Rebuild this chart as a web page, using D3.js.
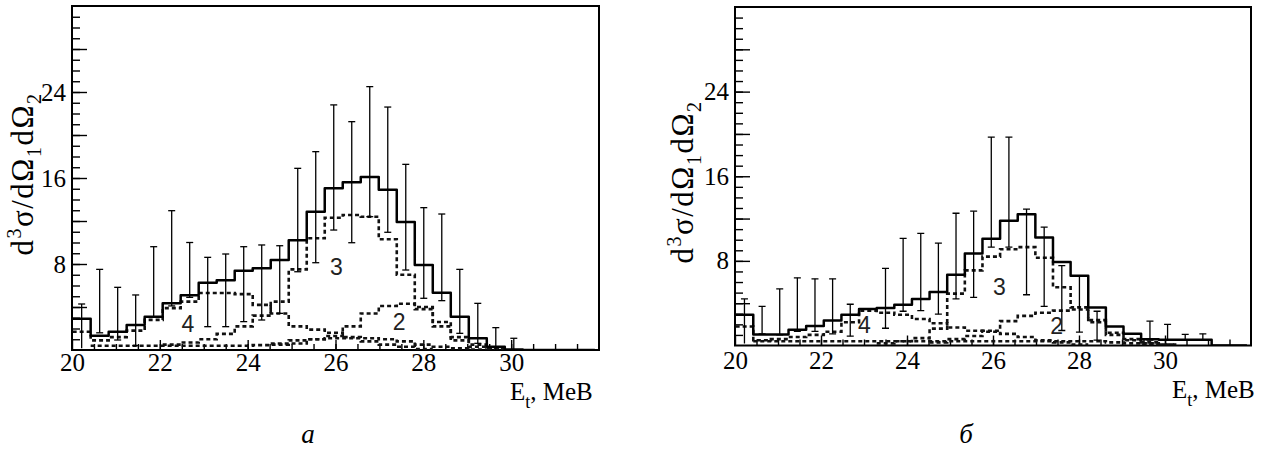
<!DOCTYPE html>
<html>
<head>
<meta charset="utf-8">
<script src="https://cdn.jsdelivr.net/npm/d3@7"></script>
<style>
  body { margin: 0; background: #fff; }
  svg { display: block; }
  text { font-family: "Liberation Serif", "Times New Roman", serif; fill: #000; }
</style>
</head>
<body>
<svg id="chart" width="1273" height="450"></svg>
<script>
// bin centres (MeV), same binning in both panels
const centers = [20.22, 20.63, 21.04, 21.45, 21.86, 22.27, 22.68, 23.09, 23.50, 23.91,
                 24.32, 24.73, 25.14, 25.55, 25.96, 26.37, 26.78, 27.19, 27.60, 28.01,
                 28.42, 28.83, 29.24, 29.65, 30.06, 30.47, 30.88, 31.29, 31.70];
const binWidth = 0.41;

const xTickLabels = [20, 22, 24, 26, 28, 30];
const yTickLabels = [8, 16, 24];

// panel "а"
const solidA  = [2.9, 1.33, 1.7, 2.33, 3.1, 4.34, 5.1, 6.26, 6.5, 7.38, 7.6, 8.37, 10.2, 12.87, 15.04,
                 15.6, 16.1, 14.9, 11.9, 7.9, 5.33, 3.1, 1.09, 0.3, 0.05, 0, 0, 0, 0];
const curve4A = [1.7, 0.9, 1.2, 1.8, 2.8, 3.9, 4.5, 5.3, 5.3, 5.2, 4.2, 3.4, 2.2, 1.9, 1.6,
                 1.2, 0.8, 0.5, 0.3, 0.1, null, null, null, null, null, null, null, null, null];
const curve3A = [null, null, null, null, null, 0.5, 0.7, 1.0, 1.5, 2.2, 3.2, 4.5, 7.5, 10.4, 12.3,
                 12.56, 12.4, 10.3, 7.0, 4.0, 2.6, 1.2, 0.5, 0.2, null, null, null, null, null];
const curve2A = [null, null, null, null, null, null, null, null, null, null, null, 0.6, 0.9, 1.0, 1.3,
                 2.2, 3.4, 4.1, 4.3, 3.8, 2.2, 0.9, 0.3, 0.1, null, null, null, null, null];
const curve1A = [null, 0.4, 0.4, 0.4, 0.4, 0.4, 0.4, 0.4, 0.4, 0.4, 0.45, 0.5, 0.6, 1.0, 1.1,
                 1.1, 1.1, 1.0, 0.8, 0.5, 0.3, 0.15, 0.05, null, null, null, null, null, null];
const errTopA = [4.28, 7.5, 5.83, 5.12, 9.61, 12.96, 10.0, 8.62, 8.93, 9.61, 9.77, 9.7, 16.9, 18.45, 22.8,
                 21.24, 24.5, 22.6, 17.27, 13.24, 12.65, 7.5, 4.34, 2.08, 1.09, null, null, null, null];
const errLowA = [0.16, 1.6, 0.93, 0.4, 3.1, 4.1, 4.9, 2.17, 2.17, 2.64, 2.79, 3.41, 7.28, 8.12, 11.16,
                 9.98, 12.4, 10.95, 7.44, 4.81, 4.59, 1.55, 0.62, 0, 0, null, null, null, null];

// panel "б"
const solidB  = [2.9, 1.04, 1.04, 1.5, 1.85, 2.36, 2.9, 3.45, 3.55, 3.85, 4.4, 5.05, 6.7, 8.7, 10.1,
                 11.8, 12.4, 10.2, 7.9, 6.6, 3.6, 1.8, 1.1, 0.6, 0.55, 0.55, 0.55, 0, 0];
const curve4B = [1.8, 0.5, 0.6, 0.8, 1.0, 1.3, 2.2, 3.3, 3.1, 2.9, 2.5, 2.1, 1.7, 1.4, 1.3,
                 1.1, 0.8, 0.5, 0.3, 0.1, null, null, null, null, null, null, null, null, null];
const curve3B = [null, null, null, null, null, null, null, null, 0.2, 0.4, 0.7, 1.6, 4.9, 7.1, 8.4,
                 9.1, 9.3, 8.3, 5.5, 3.6, 2.2, 1.2, 0.6, 0.3, 0.1, null, null, null, null];
const curve2B = [null, null, null, null, null, null, null, null, null, null, null, 0.3, 0.6, 0.9, 1.4,
                 2.3, 2.8, 3.1, 3.3, 3.4, 2.4, 1.0, 0.5, 0.2, 0.1, null, null, null, null];
const curve1B = [null, 0.4, 0.4, 0.4, 0.4, 0.4, 0.4, 0.4, 0.4, 0.4, 0.4, 0.4, 0.4, 0.4, 0.4,
                 0.4, 0.4, 0.4, 0.4, 0.4, 0.4, 0.3, 0.2, 0.1, null, null, null, null, null];
const errTopB = [4.4, 3.7, 5.35, 6.4, 6.3, 6.3, 3.9, null, 7.3, 10.13, 10.6, 9.68, 12.5, 12.7, 19.7,
                 19.7, 12.9, 11.2, 7.55, 6.6, 3.24, null, null, 2.3, 2.0, 1.05, 1.1, null, null];
const errLowB = [0.2, 1.1, 1.0, 1.33, 1.33, 1.1, 0.88, null, 1.63, 3.24, 3.3, 2.96, 4.4, 4.55, 9.3,
                 9.3, 4.8, 3.7, 1.42, 1.26, 0.5, null, null, 0.5, 0.5, 0.5, 0.5, null, null];

const svg = d3.select("#chart");
svg.append("rect").attr("width", 1273).attr("height", 450).attr("fill", "#fff");

// turns per-bin values into the corners of a step histogram
function stepPoints(vals) {
  const pts = [];
  vals.forEach((v, i) => {
    if (v == null) return;
    pts.push([centers[i] - binWidth / 2, v]);
    pts.push([centers[i] + binWidth / 2, v]);
  });
  return pts;
}

function drawPanel(p) {
  const x = d3.scaleLinear().domain([20, 32]).range(p.xRange);
  const y = d3.scaleLinear().domain([0, 32]).range(p.yRange);
  const g = svg.append("g");

  g.append("clipPath").attr("id", "clip-" + p.id)
    .append("rect")
    .attr("x", x(20)).attr("y", y(32))
    .attr("width", x(32) - x(20)).attr("height", y(0) - y(32));

  // y ticks, pointing inwards
  const yMinor = g.append("g").attr("transform", `translate(${x(20)},0)`)
    .call(d3.axisLeft(y).tickValues(d3.range(1, 32)).tickSize(-8).tickFormat(""));
  const yMajor = g.append("g").attr("transform", `translate(${x(20)},0)`)
    .call(d3.axisLeft(y).tickValues(d3.range(4, 32, 4)).tickSize(-15).tickPadding(6)
      .tickFormat(d => yTickLabels.includes(d) ? d : ""));

  // x ticks
  const xMinor = g.append("g").attr("transform", `translate(0,${y(0)})`)
    .call(d3.axisBottom(x).tickValues(d3.range(20.5, 32, 0.5)).tickSize(-6).tickFormat(""));
  const xMajor = g.append("g").attr("transform", `translate(0,${y(0)})`)
    .call(d3.axisBottom(x).tickValues(xTickLabels).tickSize(-10).tickPadding(p.xPad));

  [yMinor, yMajor, xMinor, xMajor].forEach(a => {
    a.select(".domain").remove();
    a.attr("font-family", null);
    a.selectAll("line").attr("stroke", "#000").attr("stroke-width", 1.4);
    a.selectAll("text").style("font-family", '"Liberation Serif", serif').style("font-size", "25px");
  });

  // frame
  g.append("rect")
    .attr("x", x(20)).attr("y", y(32))
    .attr("width", x(32) - x(20)).attr("height", y(0) - y(32))
    .attr("fill", "none").attr("stroke", "#000").attr("stroke-width", 2);

  const plot = g.append("g").attr("clip-path", `url(#clip-${p.id})`);
  const line = d3.line().x(d => x(d[0])).y(d => y(d[1]));

  // model components, dashed
  [p.c1, p.c4, p.c3, p.c2].forEach(vals => {
    plot.append("path")
      .attr("d", line(stepPoints(vals)))
      .attr("fill", "none").attr("stroke", "#111")
      .attr("stroke-width", 2.6).attr("stroke-dasharray", "4,3");
  });

  // total, solid
  plot.append("path")
    .attr("d", line(stepPoints(p.solid)))
    .attr("fill", "none").attr("stroke", "#000").attr("stroke-width", 2.5)
    .attr("stroke-linejoin", "round");

  // error bars
  const bars = centers.map((c, i) => ({ c, top: p.errTop[i], low: p.errLow[i] }))
    .filter(d => d.top != null);
  const eb = plot.append("g").attr("stroke", "#000").attr("stroke-width", 1.3);
  eb.selectAll(".v").data(bars).join("line")
    .attr("x1", d => x(d.c)).attr("x2", d => x(d.c))
    .attr("y1", d => y(d.top)).attr("y2", d => y(d.low));
  eb.selectAll(".t").data(bars).join("line")
    .attr("x1", d => x(d.c) - 3.5).attr("x2", d => x(d.c) + 3.5)
    .attr("y1", d => y(d.top)).attr("y2", d => y(d.top));
  eb.selectAll(".b").data(bars.filter(d => d.low > 0.3)).join("line")
    .attr("x1", d => x(d.c) - 3.5).attr("x2", d => x(d.c) + 3.5)
    .attr("y1", d => y(d.low)).attr("y2", d => y(d.low));

  // component labels
  p.notes.forEach(n => {
    g.append("text")
      .attr("x", x(n.e)).attr("y", y(n.v))
      .attr("text-anchor", "middle")
      .style("font-family", '"Liberation Sans", Arial, sans-serif')
      .style("font-size", "23px").style("fill", "#222")
      .text(n.t);
  });

  // y title
  const yl = g.append("text")
    .attr("transform", `translate(${p.yTitle[0]},${p.yTitle[1]}) rotate(-90)`)
    .attr("text-anchor", "middle").style("font-size", "31px").style("letter-spacing", "1.5px");
  yl.append("tspan").text("d");
  yl.append("tspan").attr("dy", -12).style("font-size", "20px").text("3");
  yl.append("tspan").attr("dy", 12).text("σ/dΩ");
  yl.append("tspan").attr("dy", 8).style("font-size", "20px").text("1");
  yl.append("tspan").attr("dy", -8).text("dΩ");
  yl.append("tspan").attr("dy", 8).style("font-size", "20px").text("2");

  // x title
  const xl = g.append("text")
    .attr("x", p.xTitle[0]).attr("y", p.xTitle[1]).style("font-size", "25px");
  xl.append("tspan").text("E");
  xl.append("tspan").attr("dy", 8).style("font-size", "18px").text("t");
  xl.append("tspan").attr("dy", -8).text(", MeB");

  // panel letter
  g.append("text")
    .attr("x", p.letter[0]).attr("y", p.letter[1])
    .attr("text-anchor", "middle")
    .style("font-size", "27px").style("font-style", "italic")
    .text(p.letterText);
}

drawPanel({
  id: "a", xRange: [72, 599], yRange: [350, 6], xPad: 3,
  solid: solidA, c4: curve4A, c3: curve3A, c2: curve2A, c1: curve1A,
  errTop: errTopA, errLow: errLowA,
  notes: [{ t: "4", e: 22.64, v: 1.67 }, { t: "3", e: 26.02, v: 6.98 }, { t: "2", e: 27.45, v: 1.86 }],
  yTitle: [33, 174], xTitle: [510, 400], letter: [308, 443], letterText: "а"
});

drawPanel({
  id: "b", xRange: [735, 1251], yRange: [345.5, 7], xPad: 6,
  solid: solidB, c4: curve4B, c3: curve3B, c2: curve2B, c1: curve1B,
  errTop: errTopB, errLow: errLowB,
  notes: [{ t: "4", e: 23.01, v: 1.18 }, { t: "3", e: 26.15, v: 4.77 }, { t: "2", e: 27.48, v: 1.09 }],
  yTitle: [693, 182], xTitle: [1172, 398], letter: [966, 443], letterText: "б"
});
</script>
</body>
</html>
